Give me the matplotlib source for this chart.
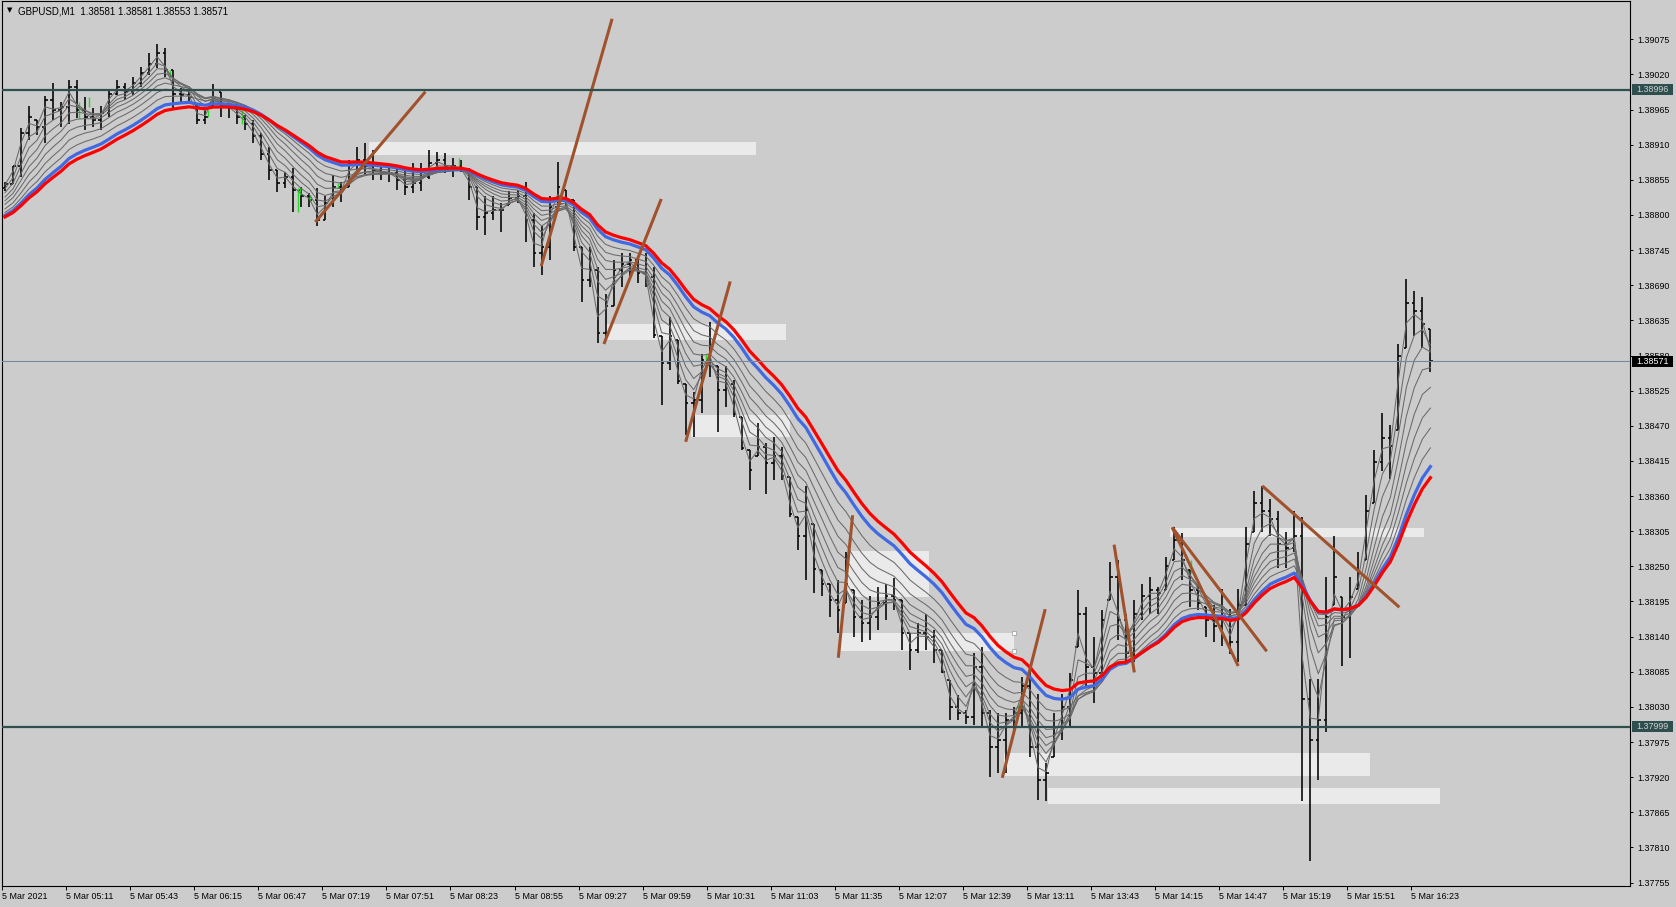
import numpy as np
import matplotlib
matplotlib.use("Agg")
import matplotlib.pyplot as plt
import matplotlib.transforms as mtransforms
from matplotlib.patches import Rectangle
from matplotlib.collections import LineCollection

plt.rcParams['font.family'] = ['Liberation Sans', 'DejaVu Sans']

# ---------------- data (GBPUSD M1, aggregated to 4-minute bars, start 04:39) ----------------
BAR_MINUTES = 4
bar_high = [1.38852, 1.38876, 1.38936, 1.38970, 1.38949, 1.38986, 1.39006, 1.38977, 1.39011, 1.39011,
            1.38985, 1.38967, 1.38970, 1.38996, 1.39011, 1.39006, 1.39016, 1.39032, 1.39053, 1.39068,
            1.39061, 1.39027, 1.38998, 1.38998, 1.38972, 1.38964, 1.39005, 1.38993, 1.38975, 1.38970,
            1.38956, 1.38949, 1.38928, 1.38907, 1.38870, 1.38868, 1.38873, 1.38844, 1.38834,
            1.38842, 1.38829, 1.38863, 1.38852, 1.38886, 1.38907, 1.38913, 1.38902, 1.38881, 1.38878,
            1.38876, 1.38870, 1.38881, 1.38881, 1.38902, 1.38899, 1.38897, 1.38889, 1.38886, 1.38873,
            1.38844, 1.38829, 1.38829, 1.38818, 1.38837, 1.38839, 1.38852, 1.38803, 1.38782, 1.38829,
            1.38883, 1.38839, 1.38823, 1.38750, 1.38750, 1.38719, 1.38677, 1.38730, 1.38740, 1.38740,
            1.38735, 1.38740, 1.38719, 1.38610, 1.38641, 1.38604, 1.38536, 1.38523, 1.38583, 1.38633,
            1.38563, 1.38563, 1.38542, 1.38484, 1.38432, 1.38474, 1.38443, 1.38453, 1.38437, 1.38390,
            1.38328, 1.38375, 1.38317, 1.38244, 1.38223, 1.38229, 1.38273, 1.38213, 1.38197, 1.38203,
            1.38218, 1.38223, 1.38231, 1.38197, 1.38145, 1.38161, 1.38176, 1.38150, 1.38119,
            1.38072, 1.38049, 1.38025, 1.38114, 1.38124, 1.38025, 1.38020, 1.38020, 1.38030, 1.38077,
            1.38093, 1.38051, 1.37942, 1.38020, 1.38051, 1.38083, 1.38213, 1.38187, 1.38140, 1.38182,
            1.38257, 1.38260, 1.38176, 1.38197, 1.38223, 1.38234, 1.38218, 1.38265, 1.38312, 1.38302,
            1.38244, 1.38223, 1.38187,
            1.38189, 1.38215, 1.38183, 1.38215, 1.38311, 1.38368, 1.38375, 1.38355, 1.38336, 1.38304,
            1.38336, 1.38327, 1.38074, 1.38074, 1.38234, 1.38298, 1.38202, 1.38234, 1.38272, 1.38362,
            1.38432, 1.38490, 1.38471, 1.38598, 1.38699, 1.38681, 1.38672, 1.38621]
bar_low = [1.38837, 1.38849, 1.38860, 1.38917, 1.38925, 1.38912, 1.38949, 1.38938, 1.38943, 1.38951,
           1.38933, 1.38938, 1.38933, 1.38954, 1.38988, 1.38980, 1.38988, 1.39001, 1.39019, 1.39030,
           1.39016, 1.38964, 1.38975, 1.38975, 1.38942, 1.38942, 1.38970, 1.38954, 1.38951, 1.38942,
           1.38933, 1.38912, 1.38886, 1.38855, 1.38836, 1.38842, 1.38804, 1.38813, 1.38813,
           1.38782, 1.38792, 1.38813, 1.38821, 1.38844, 1.38870, 1.38863, 1.38855, 1.38855, 1.38852,
           1.38839, 1.38831, 1.38834, 1.38837, 1.38857, 1.38870, 1.38865, 1.38860, 1.38868, 1.38823,
           1.38777, 1.38769, 1.38792, 1.38774, 1.38816, 1.38818, 1.38758, 1.38719, 1.38706, 1.38730,
           1.38813, 1.38813, 1.38743, 1.38664, 1.38688, 1.38599, 1.38604, 1.38657, 1.38688, 1.38703,
           1.38693, 1.38688, 1.38607, 1.38503, 1.38557, 1.38536, 1.38455, 1.38453, 1.38490, 1.38547,
           1.38461, 1.38500, 1.38484, 1.38432, 1.38369, 1.38422, 1.38364, 1.38385, 1.38385, 1.38328,
           1.38276, 1.38229, 1.38208, 1.38203, 1.38171, 1.38145, 1.38192, 1.38140, 1.38132, 1.38135,
           1.38150, 1.38166, 1.38182, 1.38119, 1.38088, 1.38114, 1.38119, 1.38098, 1.38083,
           1.38009, 1.38009, 1.38004, 1.38002, 1.37999, 1.37921, 1.37926, 1.37926, 1.37989, 1.37999,
           1.37952, 1.37884, 1.37882, 1.37952, 1.37978, 1.37999, 1.38124, 1.38062, 1.38036, 1.38083,
           1.38197, 1.38135, 1.38101, 1.38101, 1.38166, 1.38176, 1.38176, 1.38213, 1.38260, 1.38229,
           1.38187, 1.38182, 1.38140,
           1.38132, 1.38125, 1.38113, 1.38100, 1.38189, 1.38304, 1.38304, 1.38298, 1.38247, 1.38247,
           1.38272, 1.37883, 1.37789, 1.37915, 1.37991, 1.38189, 1.38094, 1.38106, 1.38215, 1.38260,
           1.38349, 1.38400, 1.38387, 1.38464, 1.38592, 1.38611, 1.38592, 1.38554]
bar_close = [1.38849, 1.38876, 1.38928, 1.38954, 1.38938, 1.38980, 1.38964, 1.38969, 1.39001, 1.38964,
             1.38954, 1.38949, 1.38959, 1.38990, 1.39001, 1.38993, 1.39006, 1.39022, 1.39037, 1.39053,
             1.39027, 1.38990, 1.38988, 1.38985, 1.38949, 1.38954, 1.38996, 1.38970, 1.38967, 1.38954,
             1.38943, 1.38923, 1.38896, 1.38870, 1.38850, 1.38860, 1.38839, 1.38829, 1.38823,
             1.38792, 1.38818, 1.38844, 1.38839, 1.38881, 1.38886, 1.38876, 1.38870, 1.38865, 1.38865,
             1.38855, 1.38844, 1.38850, 1.38860, 1.38881, 1.38886, 1.38876, 1.38876, 1.38870, 1.38844,
             1.38797, 1.38803, 1.38808, 1.38808, 1.38826, 1.38829, 1.38792, 1.38740, 1.38750, 1.38813,
             1.38844, 1.38823, 1.38750, 1.38698, 1.38714, 1.38615, 1.38657, 1.38714, 1.38724, 1.38730,
             1.38709, 1.38703, 1.38612, 1.38568, 1.38610, 1.38540, 1.38505, 1.38510, 1.38573, 1.38589,
             1.38526, 1.38536, 1.38488, 1.38436, 1.38401, 1.38437, 1.38411, 1.38422, 1.38392, 1.38332,
             1.38297, 1.38338, 1.38246, 1.38223, 1.38197, 1.38182, 1.38223, 1.38171, 1.38161, 1.38171,
             1.38192, 1.38203, 1.38197, 1.38145, 1.38119, 1.38145, 1.38140, 1.38119, 1.38085,
             1.38030, 1.38020, 1.38015, 1.38093, 1.38020, 1.37968, 1.37978, 1.38010, 1.38020, 1.38062,
             1.37968, 1.37916, 1.37926, 1.37999, 1.38030, 1.38072, 1.38176, 1.38093, 1.38083, 1.38166,
             1.38234, 1.38166, 1.38114, 1.38176, 1.38203, 1.38213, 1.38208, 1.38250, 1.38291, 1.38260,
             1.38213, 1.38192, 1.38166,
             1.38157, 1.38170, 1.38132, 1.38189, 1.38285, 1.38349, 1.38336, 1.38324, 1.38285, 1.38279,
             1.38298, 1.38042, 1.37979, 1.38010, 1.38170, 1.38234, 1.38170, 1.38202, 1.38240, 1.38336,
             1.38413, 1.38451, 1.38439, 1.38579, 1.38662, 1.38649, 1.38630, 1.38571]
first_open = 1.38842

# single green-coloured M1 bars: (minute, low, high)
green_bars = [(38.5, 1.38951, 1.38977), (43.5, 1.38969, 1.38985), (83.7, 1.39016, 1.39027),
              (102.7, 1.38954, 1.38964), (119.8, 1.38942, 1.38964), (147.8, 1.38804, 1.38842),
              (148.8, 1.38831, 1.38842), (153.7, 1.38821, 1.38831), (167.8, 1.38842, 1.38850),
              (228.2, 1.38876, 1.38889), (351.8, 1.38568, 1.38583), (507.7, 1.38025, 1.38033),
              (593.7, 1.38239, 1.38260)]

# moving averages (EMA periods in M1 bars) and their values at the left edge of the chart
grey_periods = [6, 12, 18, 25, 33, 42, 52, 64]
grey_seeds = [1.38842, 1.38834, 1.38827, 1.38820, 1.38815, 1.38810, 1.38803, 1.38798]
blue_period, blue_seed = 78, 1.38794
red_period, red_seed = 88, 1.38792

# horizontal lines
hlines_levels = [1.38996, 1.37999]
current_price = 1.38571

# rectangles: (start minute, end minute, low price, high price)
rect_zones = [(183.5, 376.5, 1.38894, 1.38914),
              (301.0, 391.5, 1.38604, 1.38629),
              (344.0, 393.5, 1.38453, 1.38487),
              (422.5, 463.0, 1.38202, 1.38274),
              (419.0, 505.5, 1.38118, 1.38146),
              (500.5, 683.5, 1.37922, 1.37958),
              (522.5, 718.5, 1.37878, 1.37903),
              (583.5, 710.5, 1.38296, 1.38310)]

# trend lines: (minute0, price0, minute1, price1)
trend_lines = [(156.5, 1.38789, 211.5, 1.38993),
               (269.35, 1.38720, 304.75, 1.39107),
               (300.65, 1.38598, 329.3, 1.38825),
               (341.5, 1.38445, 363.75, 1.38696),
               (417.75, 1.38107, 424.9, 1.38330),
               (499.65, 1.37919, 521.1, 1.38183),
               (555.5, 1.38284, 565.6, 1.38084),
               (584.5, 1.38311, 617.5, 1.38094),
               (584.5, 1.38311, 631.75, 1.38117),
               (629.5, 1.38376, 698.0, 1.38186)]

start_time = "04:39"
time_ticks = ["04:39", "05:11", "05:43", "06:15", "06:47", "07:19", "07:51", "08:23", "08:55",
              "09:27", "09:59", "10:31", "11:03", "11:35", "12:07", "12:39", "13:11", "13:43",
              "14:15", "14:47", "15:19", "15:51", "16:23"]
price_ticks = [1.39075, 1.39020, 1.38965, 1.38910, 1.38855, 1.38800, 1.38745, 1.38690, 1.38635,
               1.38580, 1.38525, 1.38470, 1.38415, 1.38360, 1.38305, 1.38250, 1.38195, 1.38140,
               1.38085, 1.38030, 1.37975, 1.37920, 1.37865, 1.37810, 1.37755]
header = "GBPUSD,M1  1.38581 1.38581 1.38553 1.38571"

# ---------------- figure ----------------
W, H = 1676, 907
BG = '#CCCCCC'
fig = plt.figure(figsize=(W / 100, H / 100), dpi=100, facecolor=BG)
ax = fig.add_axes([2 / W, (H - 886) / H, 1628 / W, 885 / H], facecolor=BG)
ax.set_xlim(0.085, 813.2)
ax.set_ylim(1.377497, 1.391349)

hi = np.array(bar_high)
lo = np.array(bar_low)
cl = np.array(bar_close)
n = len(cl)
t = np.arange(n) * BAR_MINUTES + 1.5
op = np.clip(np.concatenate([[first_open], cl[:-1]]), lo, hi)

# rectangles (background)
for m0, m1, p0, p1 in rect_zones:
    ax.add_patch(Rectangle((m0, p0), m1 - m0, p1 - p0, facecolor='#EAEAEA',
                           edgecolor='none', zorder=1))
# selection handles on one rectangle
ax.plot([505.5, 505.5], [1.38146, 1.38118], ls='none', marker='s', ms=3.2,
        mfc='white', mec='#999999', mew=0.5, zorder=9)


def ema(values, period, seed):
    a1 = 2.0 / (period + 1)
    a = 1 - (1 - a1) ** BAR_MINUTES
    out = []
    e = seed
    for v in values:
        e = e + a * (v - e)
        out.append(e)
    return np.array(out)


for p, s in zip(grey_periods, grey_seeds):
    ax.plot(t, ema(cl, p, s), color='#6a6a6a', lw=0.75, zorder=3)

# OHLC bars
segs = []
for i in range(n):
    segs.append([(t[i], lo[i]), (t[i], hi[i])])
    segs.append([(t[i] - 1.3, op[i]), (t[i], op[i])])
    segs.append([(t[i], cl[i]), (t[i] + 1.3, cl[i])])
ax.add_collection(LineCollection(segs, colors='black', linewidths=1.15, zorder=2))
gsegs = [[(m, l), (m, h)] for m, l, h in green_bars]
ax.add_collection(LineCollection(gsegs, colors='#22DD22', linewidths=1.0, zorder=2.5))

ax.plot(t, ema(cl, blue_period, blue_seed), color='#4169E1', lw=2.3, zorder=4)
ax.plot(t, ema(cl, red_period, red_seed), color='#FF0000', lw=2.3, zorder=5)

for m0, p0, m1, p1 in trend_lines:
    ax.plot([m0, m1], [p0, p1], color='#A0522D', lw=2.2, solid_capstyle='butt', zorder=6)

for lvl in hlines_levels:
    ax.axhline(lvl, color='#2F4F4F', lw=1.6, zorder=7)
ax.axhline(current_price, color='#778899', lw=0.8, zorder=7)

# axes styling
for sp in ax.spines.values():
    sp.set_color('black')
    sp.set_linewidth(0.8)
ax.yaxis.tick_right()
ax.set_yticks(price_ticks)
ax.set_yticklabels([f"{v:.5f}" for v in price_ticks])
t0 = int(start_time[:2]) * 60 + int(start_time[3:])
tick_pos = [int(s[:2]) * 60 + int(s[3:]) - t0 for s in time_ticks]
tick_lab = ["5 Mar 2021"] + ["5 Mar " + s for s in time_ticks[1:]]
ax.set_xticks(tick_pos)
ax.set_xticklabels(tick_lab)
for lab in ax.get_xticklabels():
    lab.set_ha('left')
ax.tick_params(axis='y', direction='out', length=2.5, width=0.7, labelsize=6.4, pad=2.6,
               colors='black')
ax.tick_params(axis='x', direction='out', length=3, width=0.7, labelsize=6.4, pad=1.2,
               colors='black')

# price labels on the axis
trans = mtransforms.blended_transform_factory(fig.transFigure, ax.transData)
hh = 5.3 / 63894
for lvl, fc, tc in [(hlines_levels[0], '#2F4F4F', '#D0D0D0'),
                    (current_price, 'black', 'white'),
                    (hlines_levels[1], '#2F4F4F', '#D0D0D0')]:
    ax.add_patch(Rectangle((1632 / W, lvl - hh), 41 / W, 2 * hh, transform=trans,
                           facecolor=fc, edgecolor='none', clip_on=False, zorder=20))
    ax.text(1636.5 / W, lvl, f"{lvl:.5f}", transform=trans, color=tc, fontsize=6.4,
            ha='left', va='center', clip_on=False, zorder=21)

# header
fig.text(18 / W, 1 - 11 / H, header, fontsize=7, ha='left', va='center', color='black')
fig.text(9.5 / W, 1 - 10.5 / H, '\u25BC', fontsize=5, ha='center', va='center',
         color='black', family='DejaVu Sans')

fig.savefig('out.png', dpi=100, facecolor=BG)
